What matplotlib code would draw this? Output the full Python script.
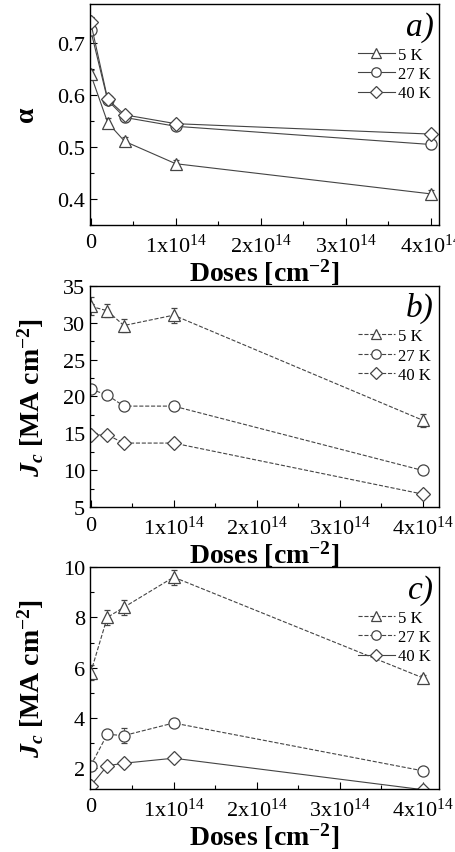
import matplotlib
matplotlib.use('Agg')
import matplotlib.pyplot as plt
from matplotlib.ticker import MultipleLocator, FixedLocator, FixedFormatter

plt.rcParams['font.family'] = 'Liberation Serif'
plt.rcParams['mathtext.fontset'] = 'custom'
plt.rcParams['mathtext.rm'] = 'Liberation Serif'
plt.rcParams['mathtext.it'] = 'Liberation Serif:italic'
plt.rcParams['mathtext.bf'] = 'Liberation Serif:bold'
plt.rcParams['mathtext.bfit'] = 'Liberation Serif:bold:italic'

# dose values (cm^-2)
doses = [0, 2e13, 4e13, 1e14, 4e14]
labels = ['5 K', '27 K', '40 K']

# a) alpha
alpha_5K = [0.640, 0.547, 0.511, 0.468, 0.410]
alpha_27K = [0.725, 0.590, 0.557, 0.540, 0.505]
alpha_40K = [0.740, 0.592, 0.562, 0.545, 0.525]
alpha_err = [0.008, 0.008, 0.008, 0.008, 0.008]

# b) Jc
jcb_5K = [32.2, 31.6, 29.6, 31.0, 16.8]
jcb_27K = [21.0, 20.2, 18.7, 18.7, 10.0]
jcb_40K = [14.8, 14.8, 13.7, 13.7, 6.8]
jcb_err_5K = [1.2, 0.9, 0.9, 1.0, 0.9]
jcb_err_27K = [0.5, 0.4, 0.4, 0.4, 0.4]
jcb_err_40K = [0.4, 0.4, 0.4, 0.4, 0.4]

# c) Jc
jcc_5K = [5.8, 8.0, 8.4, 9.6, 5.6]
jcc_27K = [2.1, 3.35, 3.3, 3.8, 1.9]
jcc_40K = [1.3, 2.1, 2.2, 2.4, 1.15]
jcc_err_5K = [0.3, 0.3, 0.3, 0.3, 0.1]
jcc_err_27K = [0.15, 0.15, 0.3, 0.1, 0.1]
jcc_err_40K = [0.1, 0.1, 0.1, 0.1, 0.05]

markers = ['^', 'o', 'D']
msizes = [8.5, 8, 7]
col = '#444444'

xticks = [0, 1e14, 2e14, 3e14, 4e14]
xticklabels = ['0', r'1x10$^{14}$', r'2x10$^{14}$', r'3x10$^{14}$', r'4x10$^{14}$']

fig = plt.figure(figsize=(4.56, 8.53), dpi=100)
ax_a = fig.add_axes([0.197, 0.735, 0.766, 0.259])
ax_b = fig.add_axes([0.197, 0.404, 0.766, 0.260])
ax_c = fig.add_axes([0.197, 0.074, 0.766, 0.260])


def draw(ax, ys, errs, styles, ylim, ymaj, ymin, xmax, tag, ylabel):
    handles = []
    for y, e, m, ms, ls, lab in zip(ys, errs, markers, msizes, styles, labels):
        eb = ax.errorbar(doses, y, yerr=e, color=col, ls=ls, lw=0.8, marker=m, ms=ms,
                         mfc='white', mec=col, mew=0.9, ecolor=col, elinewidth=0.6,
                         capsize=2.5, capthick=0.6, label=lab)
        handles.append(eb[0])
    ax.set_xlim(-0.01e14, xmax)
    ax.set_ylim(*ylim)
    ax.xaxis.set_major_locator(FixedLocator(xticks))
    ax.xaxis.set_major_formatter(FixedFormatter(xticklabels))
    ax.xaxis.set_minor_locator(MultipleLocator(0.5e14))
    ax.yaxis.set_major_locator(MultipleLocator(ymaj))
    ax.yaxis.set_minor_locator(MultipleLocator(ymin))
    ax.tick_params(which='both', direction='in', top=False, right=False, labelsize=16)
    ax.tick_params(which='major', length=5, width=0.8)
    ax.tick_params(which='minor', length=3, width=0.8)
    ax.tick_params(axis='x', pad=6)
    for s in ax.spines.values():
        s.set_linewidth(1.0)
    ax.set_xlabel(r'Doses [cm$^{\mathbf{-2}}$]', fontsize=20, fontweight='bold', labelpad=0)
    ax.set_ylabel(ylabel, fontsize=20, fontweight='bold', labelpad=12)
    ax.text(0.985, 0.97, tag, transform=ax.transAxes, ha='right', va='top',
            fontsize=24, style='italic')
    ax.legend(handles, labels, loc='upper right', bbox_to_anchor=(1.01, 0.86),
              frameon=False, fontsize=12, handlelength=2.2, handletextpad=0.2,
              labelspacing=0.2, borderpad=0.2, markerscale=0.85)


jc_label = r'$\mathbfit{J}_{\mathbfit{c}}$ [MA cm$^{\mathbf{-2}}$]'

draw(ax_a, [alpha_5K, alpha_27K, alpha_40K], [alpha_err] * 3, ['-', '-', '-'],
     (0.35, 0.775), 0.1, 0.05, 4.1e14, 'a)', r'$\mathbf{\alpha}$')
draw(ax_b, [jcb_5K, jcb_27K, jcb_40K], [jcb_err_5K, jcb_err_27K, jcb_err_40K],
     ['--', '--', '--'], (5, 35), 5, 2.5, 4.2e14, 'b)', jc_label)
draw(ax_c, [jcc_5K, jcc_27K, jcc_40K], [jcc_err_5K, jcc_err_27K, jcc_err_40K],
     ['--', '--', '-'], (1.18, 10), 2, 1, 4.2e14, 'c)', jc_label)

fig.savefig('out.png', dpi=100)
